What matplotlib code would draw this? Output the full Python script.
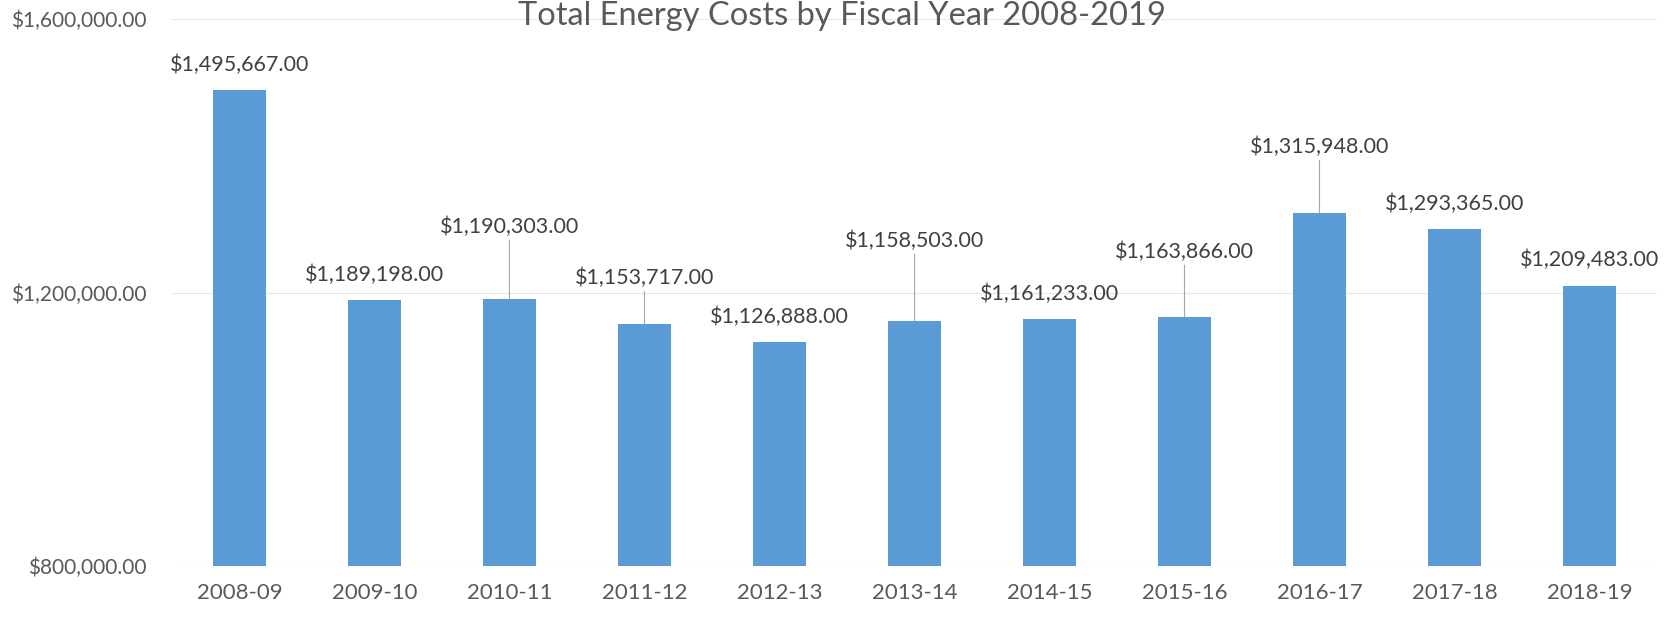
import matplotlib
matplotlib.use("Agg")
import matplotlib.pyplot as plt
from matplotlib.ticker import FuncFormatter

years = ["2008-09", "2009-10", "2010-11", "2011-12", "2012-13", "2013-14",
         "2014-15", "2015-16", "2016-17", "2017-18", "2018-19"]
costs = [1495667.00, 1189198.00, 1190303.00, 1153717.00, 1126888.00, 1158503.00,
         1161233.00, 1163866.00, 1315948.00, 1293365.00, 1209483.00]
yticks = [800000, 1200000, 1600000]

# label offset above bar top (pixels) and whether a leader line is drawn
label_offsets = [25, 25, 72, 46, 26, 80, 25, 65, 66, 25, 26]
leader = [False, False, True, True, False, True, False, True, True, False, False]

plt.rcParams['font.family'] = ['Lato', 'DejaVu Sans']
fig = plt.figure(figsize=(16.67, 6.22), dpi=100)
ax = fig.add_axes([172/1667, 1-566/622, (1657-172)/1667, (566-19)/622])

bar_color = "#5B9BD5"
x = range(len(years))
ax.bar(x, costs, width=0.39, color=bar_color, zorder=2)
ax.set_ylim(800000, 1600000)
ax.set_xlim(-0.5, len(years)-0.5)
ax.set_yticks(yticks)
ax.yaxis.set_major_formatter(FuncFormatter(lambda v, p: f"${v:,.2f}"))
ax.set_xticks(list(x))
ax.set_xticklabels(years)
ax.tick_params(axis='both', length=0, colors="#595959")
ax.tick_params(axis='y', pad=18, labelsize=15)
ax.tick_params(axis='x', pad=12, labelsize=16)
ax.grid(axis='y', color="#E6E6E6", linewidth=0.8, zorder=0)
for s in ax.spines.values():
    s.set_visible(False)

px2pt = 72/100
for i, (v, off, ld) in enumerate(zip(costs, label_offsets, leader)):
    ax.annotate(f"${v:,.2f}", xy=(i, v), xytext=(0, off*px2pt),
                textcoords="offset points", ha="center", va="center",
                fontsize=15.5, color="#404040", zorder=3)
    if ld:
        ax.annotate("", xy=(i, v), xytext=(0, (off-13)*px2pt),
                    textcoords="offset points",
                    arrowprops=dict(arrowstyle="-", color="#A6A6A6", lw=0.8,
                                    shrinkA=0, shrinkB=0))

fig.text(0.505, 1-16/622, "Total Energy Costs by Fiscal Year 2008-2019",
         ha="center", va="center", fontsize=23.5, color="#595959")

fig.savefig("out.png", dpi=100)
